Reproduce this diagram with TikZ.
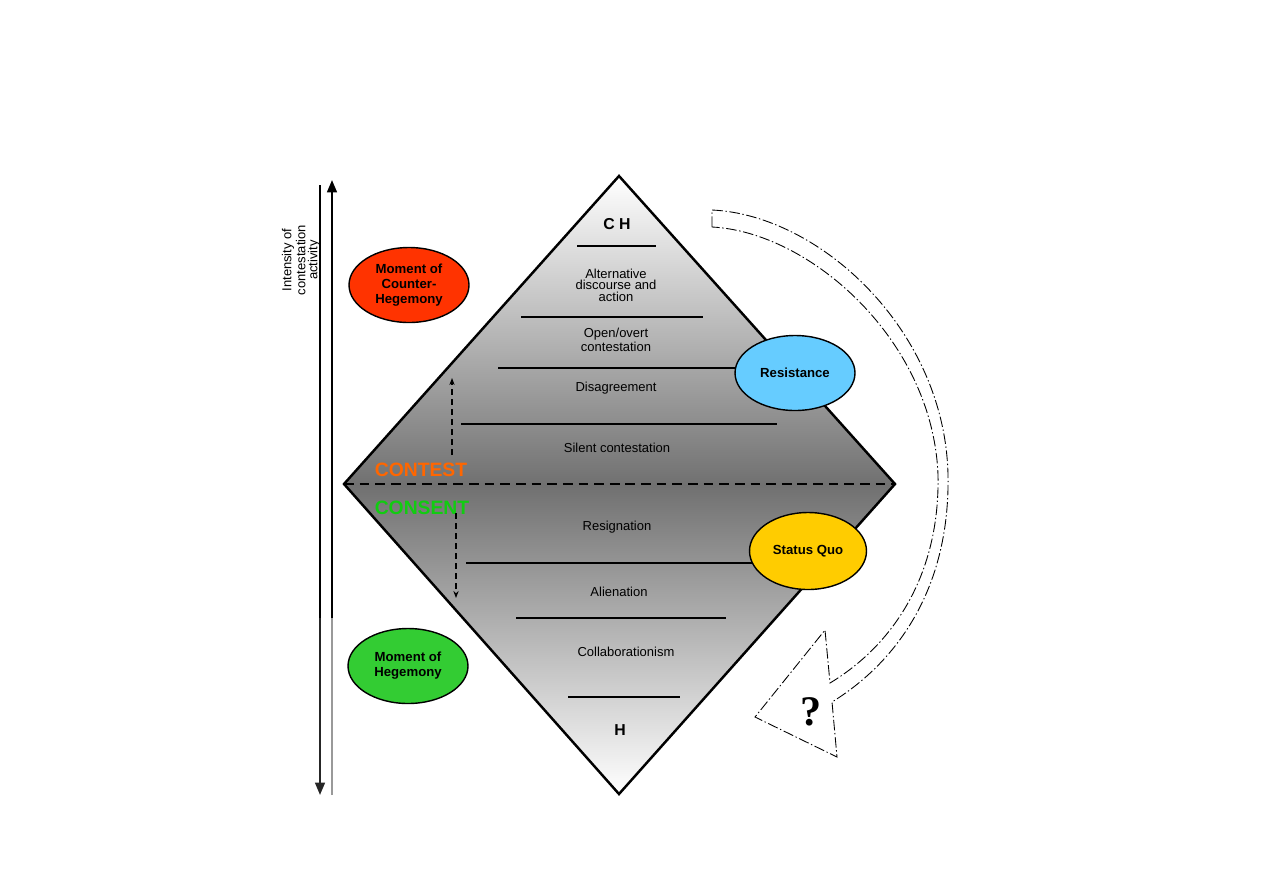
\documentclass[tikz,border=0pt]{standalone}
\usepackage{fontspec}
\setmainfont{Liberation Sans}
\newfontfamily\qmarkfont{Liberation Serif}
\usetikzlibrary{shapes.geometric,arrows.meta}
\definecolor{counterRed}{HTML}{FF3300}
\definecolor{resistBlue}{HTML}{66CCFF}
\definecolor{quoYellow}{HTML}{FFCC00}
\definecolor{hegGreen}{HTML}{33CC33}
\definecolor{contestOrange}{HTML}{FF6600}
\definecolor{consentGreen}{HTML}{11CC11}
\tikzset{
  diamondline/.style={line width=1.4pt},
  layerline/.style={line width=1.1pt},
  midline/.style={line width=1.4pt, dash pattern=on 5.5pt off 3.4pt},
  layertext/.style={font=\fontsize{7.4}{6.6}\selectfont, align=center, inner sep=0pt},
  poletext/.style={font=\fontsize{9}{10}\selectfont\bfseries, inner sep=0pt},
  moment/.style={draw, ellipse, line width=0.8pt, inner sep=0pt,
    minimum width=2.4cm, minimum height=1.5cm,
    font=\fontsize{7.5}{8.6}\selectfont\bfseries, align=center},
  sidetext/.style={font=\fontsize{11}{12}\selectfont\bfseries, inner sep=0pt},
  shiftarrow/.style={line width=0.6pt, dash pattern=on 3.4pt off 2.3pt,
    -{Stealth[length=4pt,width=3pt]}},
  cyclearrow/.style={line width=0.5pt, dash pattern=on 6pt off 1.5pt on 0.8pt off 1.5pt}
}
\newcommand{\layerLine}[3]{%
  % #1 y, #2 x-left, #3 x-right
  \draw[layerline] (#2,#1) -- (#3,#1);
}
\begin{document}
\begin{tikzpicture}[x=0.02cm, y=-0.02cm]
  \useasboundingbox (0,0) rectangle (1263,893);
  % diamond
  \coordinate (top) at (619,176);
  \coordinate (rgt) at (895,484);
  \coordinate (bot) at (619,794);
  \coordinate (lft) at (344,484);
  \shade[top color=white, bottom color=white, middle color=black!56]
    (top) -- (rgt) -- (bot) -- (lft) -- cycle;
  % layers
  \layerLine{246}{577}{656}
  \layerLine{317}{521}{703}
  \layerLine{368}{498}{790}
  \layerLine{424}{461}{777}
  \layerLine{563}{466}{800}
  \layerLine{618}{516}{726}
  \layerLine{697}{568}{680}
  \draw[midline] (lft) -- (rgt);
  \draw[diamondline] (top) -- (rgt) -- (bot) -- (lft) -- cycle;
  % layer labels
  \node[poletext] (ch) at (617,224) {C H};
  \node[layertext] (alt) at (616,285) {Alternative\\discourse and\\action};
  \node[layertext] (overt) at (616,340) {Open/overt\\contestation};
  \node[layertext] (disagree) at (616,388) {Disagreement};
  \node[layertext] (silent) at (617,448) {Silent contestation};
  \node[layertext] (resign) at (617,527) {Resignation};
  \node[layertext] (alien) at (619,592) {Alienation};
  \node[layertext] (collab) at (626,652) {Collaborationism};
  \node[poletext] (h) at (620,730) {H};
  \node[sidetext, text=contestOrange] (contest) at (421,470) {CONTEST};
  \node[sidetext, text=consentGreen] (consent) at (422,508) {CONSENT};
  \draw[shiftarrow] (452,455) -- (452,378);
  \draw[shiftarrow] (456,513) -- (456,598);
  % moments
  \node[moment, fill=counterRed] (counter) at (409,285) {Moment of\\Counter-\\Hegemony};
  \node[moment, fill=hegGreen] (hegemony) at (408,666) {Moment of\\Hegemony};
  \node[moment, fill=resistBlue] (resist) at (795,373) {Resistance};
  \node[moment, fill=quoYellow, minimum width=2.34cm, minimum height=1.54cm] (quo) at (808,551) {Status Quo};
  % intensity axis
  \draw[line width=1.6pt] (320,185) -- (320,618);
  \draw[line width=1.2pt, black!85, -{Triangle[length=7pt,width=5.5pt]}] (320,618) -- (320,795);
  \draw[line width=1.3pt, black!40] (332,795) -- (332,618);
  \draw[line width=1.3pt, -{Triangle[length=7pt,width=5.5pt]}] (332,618) -- (332,180);
  \node[rotate=90, align=center, inner sep=0pt,
    font=\fontsize{7.4}{6.8}\selectfont] (axislabel) at (301,260) {Intensity of\\contestation\\activity};
  % cycle back
  \draw[cyclearrow] (712,227) -- (712,210)
    .. controls (820,215) and (945,330) .. (948,475)
    .. controls (950,585) and (900,660) .. (832,702)
    -- (837,757) -- (755,717) -- (825,630) -- (830,683)
    .. controls (893,645) and (940,575) .. (938,475)
    .. controls (933,340) and (810,232) .. (712,227);
  \node[font=\qmarkfont\fontsize{24}{25}\selectfont\bfseries] (qmark) at (811,712) {?};
\end{tikzpicture}
\end{document}
